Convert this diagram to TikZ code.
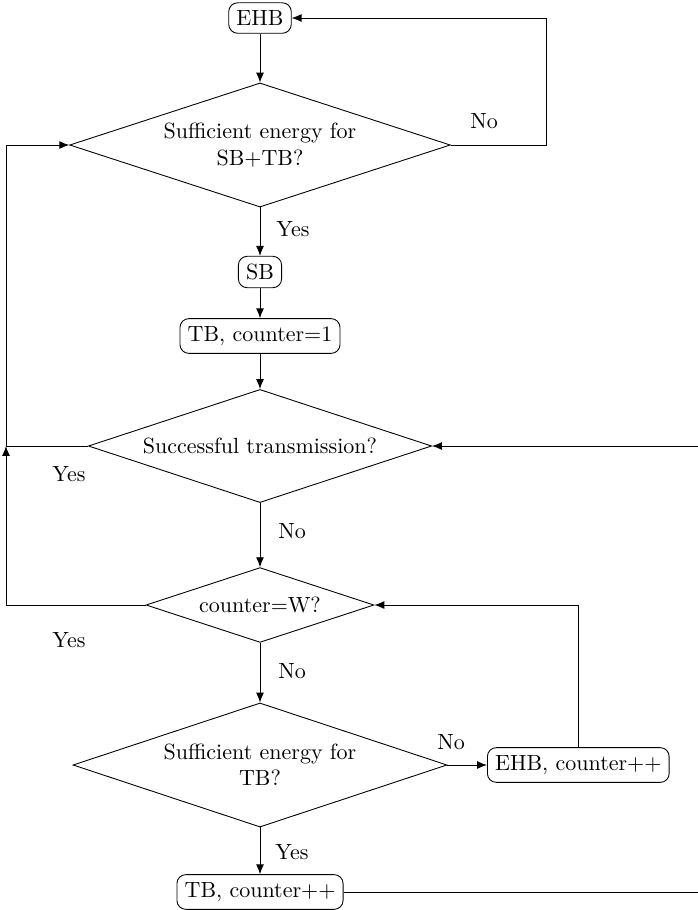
\documentclass[tikz,border=0pt]{standalone}
\usetikzlibrary{shapes.geometric,arrows.meta}
\begin{document}
\begin{tikzpicture}[x=0.4545pt,y=-0.4545pt,
  boxnode/.style={draw, rounded corners=4pt, inner sep=3.5pt},
  decnode/.style={draw, diamond, aspect=3, inner sep=0pt, align=center},
  arr/.style={-{Latex[length=4.5pt,width=3.6pt]}},
  lab/.style={inner sep=0pt}]
\useasboundingbox (0,0) rectangle (698,910);

\node[boxnode] (ehb1) at (260,18) {EHB};
\node[decnode, minimum width=173pt, minimum height=56.4pt] (d1) at (260,145) {Sufficient energy for\\SB+TB?};
\node[boxnode] (sb) at (260,272) {SB};
\node[boxnode] (tb1) at (260,336) {TB, counter=1};
\node[decnode, minimum width=156pt, minimum height=51.4pt] (d2) at (260,446) {Successful transmission?};
\node[decnode, minimum width=103.6pt, minimum height=34pt] (d3) at (260,605) {counter=W?};
\node[decnode, minimum width=170pt, minimum height=56.4pt] (d4) at (260,765) {Sufficient energy for\\TB?};
\node[boxnode, anchor=west] (ehb2) at (487,765) {EHB, counter++};
\node[boxnode] (tb2) at (260,892) {TB, counter++};

\coordinate (r1) at (546,18);
\coordinate (l2) at (6,446);
\coordinate (r2) at (706,892);

\draw[arr] (ehb1) -- (d1);
\draw[arr] (d1.east) -| (r1) -- (ehb1.east);
\draw[arr] (d1) -- (sb);
\draw[arr] (sb) -- (tb1);
\draw[arr] (tb1) -- (d2);
\draw[arr] (d2.west) -- (l2) |- (d1.west);
\draw[arr] (d2) -- (d3);
\draw[arr] (d3.west) -| (l2);
\draw[arr] (d3) -- (d4);
\draw[arr] (d4.east) -- (ehb2.west);
\draw[arr] (ehb2.north) |- (d3.east);
\draw[arr] (d4) -- (tb2);
\draw[arr] (tb2.east) -- (r2) |- (d2.east);

\node[lab] (n1) at (484,121) {No};
\node[lab] (y1) at (293,229) {Yes};
\node[lab] (y2) at (69,474) {Yes};
\node[lab] (n2) at (292,531) {No};
\node[lab] (y3) at (69,640) {Yes};
\node[lab] (n3) at (292,671) {No};
\node[lab] (n4) at (451,742) {No};
\node[lab] (y4) at (292,852) {Yes};
\end{tikzpicture}
\end{document}
